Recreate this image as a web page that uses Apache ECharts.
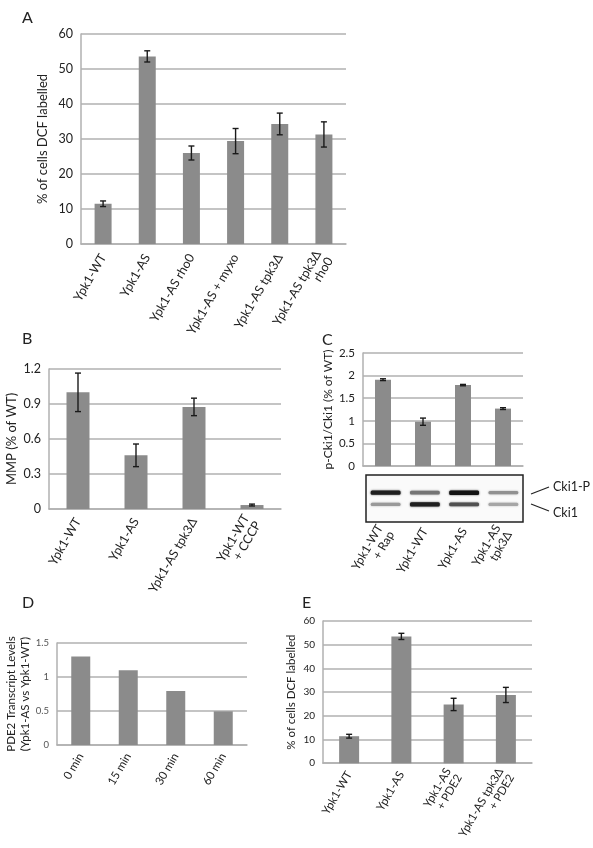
<!DOCTYPE html>
<html><head><meta charset="utf-8">
<script src="https://cdn.jsdelivr.net/npm/echarts@6/dist/echarts.min.js"></script>
<style>html,body{margin:0;padding:0;background:#fff}#c{width:593px;height:848px}</style>
</head><body><div id="c"></div>
<script>
// Panel A
const catA = ['Ypk1-WT','Ypk1-AS','Ypk1-AS rho0','Ypk1-AS + myxo','Ypk1-AS tpk3Δ','Ypk1-AS tpk3Δ\nrho0'];
const valA = [11.5, 53.6, 26.0, 29.4, 34.3, 31.3];
const errA = [0.8, 1.6, 2.0, 3.6, 3.1, 3.6];
const ticksA = [0, 60, 10];
// Panel B
const catB = ['Ypk1-WT','Ypk1-AS','Ypk1-AS tpk3Δ','Ypk1-WT\n+ CCCP'];
const valB = [1.0, 0.46, 0.875, 0.034];
const errB = [0.165, 0.097, 0.075, 0.008];
const ticksB = [0, 1.2, 0.3];
// Panel C
const catC = ['Ypk1-WT\n+ Rap','Ypk1-WT','Ypk1-AS','Ypk1-AS\ntpk3Δ'];
const valC = [1.91, 0.98, 1.79, 1.27];
const errC = [0.02, 0.08, 0.015, 0.02];
const ticksC = [0, 2.5, 0.5];
const blotRows = ['', 'Cki1', 'Cki1-P', ''];
const bandCki1P = [0.95, 0.55, 1.0, 0.42];
const bandCki1 = [0.38, 0.95, 0.72, 0.32];
// Panel D
const catD = ['0 min','15 min','30 min','60 min'];
const valD = [1.3, 1.1, 0.795, 0.495];
const ticksD = [0, 1.5, 0.5];
// Panel E
const catE = ['Ypk1-WT','Ypk1-AS','Ypk1-AS\n+ PDE2','Ypk1-AS tpk3Δ\n+ PDE2'];
const valE = [11.4, 53.5, 24.8, 28.8];
const errE = [0.8, 1.3, 2.6, 3.2];
const ticksE = [0, 60, 10];

const FONT = 'Lato';
const BAR = '#8b8b8b';
const GRIDC = '#b0b0b0';
const TXT = '#222';

const chart = echarts.init(document.getElementById('c'), null, {renderer: 'canvas'});

function xAx(idx, cats, fs, margin, show) {
  return {
    type: 'category', gridIndex: idx, data: cats,
    axisLine: {show: true, lineStyle: {color: GRIDC, width: 1.5}},
    axisTick: {show: false},
    axisLabel: {show: show !== false, rotate: 60, interval: 0, margin: margin, fontSize: fs, fontFamily: FONT, color: TXT, lineHeight: fs + 1}
  };
}
function yAx(idx, t, fs, name, nameFs, gap, fmt, col) {
  return {
    type: 'value', gridIndex: idx, min: t[0], max: t[1], interval: t[2],
    name: name, nameLocation: 'middle', nameGap: gap,
    nameTextStyle: {fontSize: nameFs, fontFamily: FONT, color: TXT, lineHeight: nameFs + 2},
    axisLine: {show: true, lineStyle: {color: GRIDC, width: 1.5}},
    axisTick: {show: false},
    splitLine: {show: true, lineStyle: {color: GRIDC, width: 1.5}},
    axisLabel: {fontSize: fs, fontFamily: FONT, color: col || TXT, margin: 8, formatter: fmt}
  };
}
function bars(idx, vals, w) {
  return {type: 'bar', xAxisIndex: idx, yAxisIndex: idx, data: vals, barWidth: w,
    itemStyle: {color: BAR}, silent: true, animation: false};
}
function errs(idx, vals, e) {
  return {
    type: 'custom', xAxisIndex: idx, yAxisIndex: idx, animation: false, silent: true, z: 5,
    data: vals.map((v, i) => [i, v, e[i]]),
    renderItem: function (params, api) {
      const i = api.value(0), v = api.value(1), er = api.value(2);
      const top = api.coord([i, v + er]);
      const bot = api.coord([i, v - er]);
      const cw = 3;
      const st = {stroke: '#1a1a1a', lineWidth: 1.4};
      return {type: 'group', children: [
        {type: 'line', shape: {x1: top[0], y1: top[1], x2: bot[0], y2: bot[1]}, style: st},
        {type: 'line', shape: {x1: top[0] - cw, y1: top[1], x2: top[0] + cw, y2: top[1]}, style: st},
        {type: 'line', shape: {x1: bot[0] - cw, y1: bot[1], x2: bot[0] + cw, y2: bot[1]}, style: st}
      ]};
    }
  };
}
const bandData = [];
bandCki1P.forEach((v, i) => bandData.push([i, 2, v]));
bandCki1.forEach((v, i) => bandData.push([i, 1, v]));

const letter = (t, x, y) => ({type: 'text', left: x, top: y, style: {text: t, fontSize: 16, fontFamily: FONT, fill: '#222'}});

const option = {
  animation: false,
  backgroundColor: '#fff',
  grid: [
    {left: 81, top: 34, width: 265, height: 210},
    {left: 49, top: 369, width: 232, height: 140},
    {left: 363, top: 353, width: 160, height: 113},
    {left: 366, top: 475, width: 157, height: 47, show: true, borderColor: '#222', borderWidth: 1.5, backgroundColor: '#fafafa'},
    {left: 57, top: 643, width: 190, height: 102},
    {left: 323, top: 621, width: 209, height: 148}
  ],
  xAxis: [
    xAx(0, catA, 12.5, 11),
    xAx(1, catB, 12.5, 10),
    xAx(2, catC, 11, 8, false),
    Object.assign(xAx(3, catC, 12, 7), {axisLine: {show: false}}),
    xAx(4, catD, 11.5, 9),
    xAx(5, catE, 11.5, 9)
  ],
  yAxis: [
    yAx(0, ticksA, 12.5, '% of cells DCF labelled', 13, 31),
    yAx(1, ticksB, 12.5, 'MMP (% of WT)', 13, 30, v => (v === 0 ? '0' : v.toFixed(1))),
    yAx(2, ticksC, 11.5, 'p-Cki1/Cki1 (% of WT)', 12, 19),
    {type: 'category', gridIndex: 3, data: blotRows, show: false},
    yAx(4, ticksD, 9.5, 'PDE2 Transcript Levels\n(Ypk1-AS vs Ypk1-WT)', 11.5, 23, null, '#555'),
    yAx(5, ticksE, 10, '% of cells DCF labelled', 11.5, 25)
  ],
  series: [
    bars(0, valA, 17), errs(0, valA, errA),
    bars(1, valB, 23), errs(1, valB, errB),
    bars(2, valC, 16), errs(2, valC, errC),
    {
      type: 'custom', xAxisIndex: 3, yAxisIndex: 3, animation: false, silent: true,
      data: bandData,
      renderItem: function (params, api) {
        const c = api.coord([api.value(0), api.value(1)]);
        const w = api.size([1, 1])[0] * 0.76;
        const it = api.value(2);
        const g = Math.round(235 - it * 215);
        const h = 2.5 + it * 2;
        return {type: 'rect', shape: {x: c[0] - w / 2, y: c[1] - h / 2, width: w, height: h, r: 1.5},
          style: {fill: 'rgb(' + g + ',' + g + ',' + g + ')', shadowBlur: 2, shadowColor: 'rgba(' + g + ',' + g + ',' + g + ',0.8)'}};
      }
    },
    bars(4, valD, 19),
    bars(5, valE, 20), errs(5, valE, errE)
  ],
  graphic: [
    letter('A', 22, 10),
    letter('B', 22, 331),
    letter('C', 322, 332),
    letter('D', 22, 595),
    letter('E', 302, 595),
    {type: 'line', shape: {x1: 531, y1: 494, x2: 549, y2: 487}, style: {stroke: '#222', lineWidth: 1.2}},
    {type: 'line', shape: {x1: 531, y1: 504, x2: 549, y2: 511}, style: {stroke: '#222', lineWidth: 1.2}},
    {type: 'text', left: 553, top: 480, style: {text: 'Cki1-P', fontSize: 12.5, fontFamily: FONT, fill: '#222'}},
    {type: 'text', left: 553, top: 506, style: {text: 'Cki1', fontSize: 12.5, fontFamily: FONT, fill: '#222'}}
  ]
};
chart.setOption(option);
</script>
</body></html>
